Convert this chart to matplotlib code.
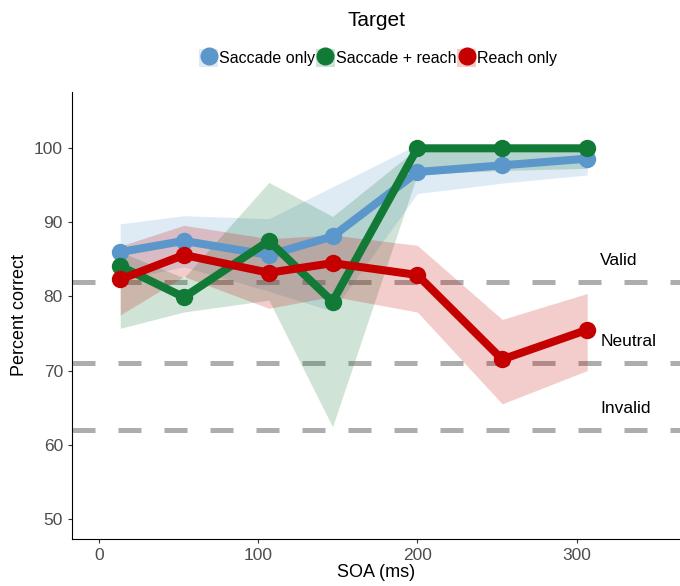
import numpy as np
import matplotlib.pyplot as plt
from matplotlib.patches import Patch
from matplotlib.lines import Line2D

plt.rcParams['font.family'] = ['Liberation Sans', 'DejaVu Sans']

soa = [13.3, 53.3, 106.7, 146.7, 200, 253.3, 306.7]

sacc_mean = [86.0, 87.5, 85.6, 88.1, 96.8, 97.7, 98.6]
sacc_hi = [89.8, 90.9, 90.5, 94.8, 100.5, 100.3, 100.2]
sacc_lo = [82.2, 84.0, 80.7, 78.0, 93.9, 95.3, 96.4]

both_mean = [84.1, 79.9, 87.5, 79.3, 100, 100, 100]
both_hi = [86.0, 82.5, 95.4, 90.8, 100, 100, 100]
both_lo = [75.7, 77.9, 79.5, 62.4, 96.5, 97.0, 97.3]

reach_mean = [82.3, 85.6, 83.2, 84.5, 82.9, 71.5, 75.5]
reach_hi = [86.8, 89.6, 87.8, 88.3, 86.9, 76.9, 80.4]
reach_lo = [77.5, 82.7, 78.4, 80.0, 77.9, 65.5, 70.0]

ref_levels = [82, 71, 62]
ref_names = ['Valid', 'Neutral', 'Invalid']

c_blue = '#5b97cb'
c_green = '#127a37'
c_red = '#c40000'

fig = plt.figure(figsize=(6.8, 5.86), dpi=100)
ax = fig.add_axes([72/680, (586-538.7)/586, 1-72/680, (538.7-92)/586])

for y in ref_levels:
    ax.axhline(y, color='#adadad', lw=3.6, dashes=(4.6, 4.6), zorder=1)
for y, name in zip(ref_levels, ref_names):
    ax.text(315, y + 2.9, name, fontsize=12.5, va='center', ha='left')

series = [
    (sacc_mean, sacc_lo, sacc_hi, c_blue, 'Saccade only'),
    (both_mean, both_lo, both_hi, c_green, 'Saccade + reach'),
    (reach_mean, reach_lo, reach_hi, c_red, 'Reach only'),
]
for mean, lo, hi, col, lab in series:
    ax.fill_between(soa, lo, hi, color=col, alpha=0.2, lw=0, zorder=2)
for mean, lo, hi, col, lab in series:
    ax.plot(soa, mean, color=col, lw=5.8, marker='o', ms=11.5, zorder=3)

ax.set_xlim(-17, 365)
ax.set_ylim(47.3, 107.6)
ax.set_xticks([0, 100, 200, 300])
ax.set_yticks([50, 60, 70, 80, 90, 100])
ax.tick_params(labelsize=12.5, labelcolor='#4d4d4d', color='#333333', length=3)
ax.spines['top'].set_visible(False)
ax.spines['right'].set_visible(False)
ax.set_xlabel('SOA (ms)', fontsize=13, labelpad=1)
ax.set_ylabel('Percent correct', fontsize=13)

handles = []
for mean, lo, hi, col, lab in series:
    handles.append((Patch(facecolor=col, alpha=0.2, lw=0),
                    Line2D([], [], color=col, marker='o', ms=12, lw=0)))
fig.text(377/680, 1 - 21/586, 'Target', fontsize=15, ha='center', va='center')
fig.legend(handles, [s[4] for s in series], loc='center', ncol=3,
           bbox_to_anchor=(378/680, 1 - 58/586), frameon=False,
           fontsize=11.5, handlelength=1.2, handleheight=1.4,
           handletextpad=0.05, columnspacing=0.05, borderpad=0)

fig.savefig('out.png', dpi=100)
